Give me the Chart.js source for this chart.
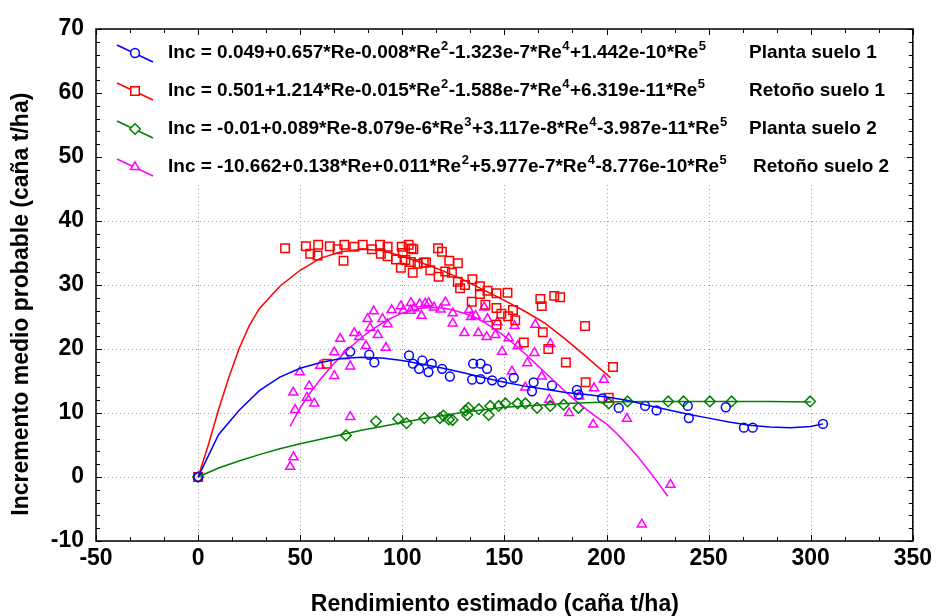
<!DOCTYPE html>
<html><head><meta charset="utf-8">
<script src="https://cdn.jsdelivr.net/npm/chart.js@4/dist/chart.umd.min.js"></script>
<style>html,body{margin:0;padding:0;background:#fff}canvas{display:block}</style>
</head><body>
<canvas id="c" width="936" height="616"></canvas>
<script>
// ---------- data ----------
const seriesNames = ["Planta suelo 1", "Retoño suelo 1", "Planta suelo 2", "Retoño suelo 2"];
const equations = [
  "Inc = 0.049+0.657*Re-0.008*Re^2-1.323e-7*Re^4+1.442e-10*Re^5",
  "Inc = 0.501+1.214*Re-0.015*Re^2-1.588e-7*Re^4+6.319e-11*Re^5",
  "Inc = -0.01+0.089*Re-8.079e-6*Re^3+3.117e-8*Re^4-3.987e-11*Re^5",
  "Inc = -10.662+0.138*Re+0.011*Re^2+5.977e-7*Re^4-8.776e-10*Re^5"
];
const xTitle = "Rendimiento estimado (caña t/ha)";
const yTitle = "Incremento medio probable (caña t/ha)";
const xTickValues = [-50, 0, 50, 100, 150, 200, 250, 300, 350];
const yTickValues = [-10, 0, 10, 20, 30, 40, 50, 60, 70];

// Planta suelo 1 (blue circles)
const planta1X = [0,74.5,83.8,86.3,103.3,105.2,109.8,108.2,112.8,114.4,119.5,123.3,134.7,138.3,141.5,134.2,138.3,144.0,148.9,154.6,164.3,163.5,173.3,185.5,186.3,197.9,206.0,218.9,224.5,239.8,240.3,258.4,267.3,271.6,306.0];
const planta1Y = [0,19.6,19.1,17.9,19.0,17.7,18.2,16.9,16.4,17.7,16.9,15.7,17.7,17.7,16.9,15.2,15.3,15.1,14.8,15.5,14.8,13.4,14.3,13.6,12.9,12.3,10.8,11.1,10.4,11.1,9.2,10.9,7.7,7.7,8.3];
// Retoño suelo 1 (red squares)
const retono1X = [0,42.6,52.8,54.9,58.8,58.5,63.0,64.5,68.3,71.6,71.2,76.5,80.6,85.1,89.1,89.5,92.8,92.8,96.9,99.7,100.2,99.3,101.5,103.1,104.5,105.4,104.2,105.1,107.5,110.5,111.6,113.7,117.5,119.4,117.8,121.0,123.0,124.3,127.2,127.2,128.3,130.7,134.3,134.0,138.0,138.0,140.7,141.7,146.1,146.1,146.1,148.5,151.5,151.8,154.2,155.3,159.5,167.6,168.3,168.8,171.5,174.4,177.3,180.1,189.5,189.8,201.1,203.2];
const retono1Y = [0,35.75,36.06,34.9,36.3,34.6,17.7,36.06,35.6,36.3,33.8,35.96,36.3,35.6,36.3,34.9,35.96,34.5,34.0,35.96,35.0,32.7,33.9,36.3,35.7,35.6,33.6,31.9,33.3,33.5,33.5,32.3,35.75,35.2,31.3,32.1,33.8,31.9,33.4,30.5,29.5,30.0,30.9,27.4,29.8,28.6,26.9,29.1,28.7,26.4,23.8,25.5,28.8,25.1,26.1,24.5,21.0,27.8,26.7,22.6,20.0,28.3,28.1,17.9,23.6,14.8,12.4,17.2];
// Planta suelo 2 (green diamonds)
const planta2X = [0,72.4,87.1,98.0,102.1,110.8,118.4,120.1,122.8,124.6,130.9,132.4,131.8,137.5,142.3,143.1,147.2,150.5,156.5,160.3,166.0,172.5,179.0,186.3,201.1,210.3,230.2,237.7,250.6,261.3,299.7];
const planta2Y = [0,6.5,8.7,9.1,8.4,9.2,9.2,9.6,9.0,8.9,10.4,10.8,9.7,10.6,9.7,11.1,11.1,11.5,11.5,11.5,10.8,11.1,11.3,10.8,11.5,11.8,11.8,11.8,11.8,11.8,11.8];
// Retoño suelo 2 (magenta triangles)
const retono2X = [45.1,46.7,47.5,46.6,49.8,53.3,54.4,56.9,59.8,66.7,66.7,69.6,71.6,74.5,74.5,76.5,78.9,82.2,84.2,83.0,88.0,86.0,90.3,92.0,92.8,94.8,99.3,100.5,104.2,104.0,105.9,108.5,109.4,111.2,112.9,115.5,118.7,121.1,124.7,124.7,130.4,132.7,133.7,135.9,137.2,140.1,141.3,141.7,145.6,146.6,148.9,152.1,153.7,155.0,156.6,160.2,161.2,164.7,165.1,168.3,172.0,172.5,181.7,186.6,193.5,193.9,198.7,210.0,217.3,231.3];
const retono2Y = [1.6,3.1,10.5,13.2,16.4,12.4,14.2,11.5,17.4,15.8,19.5,21.6,18.9,17.3,9.4,22.5,21.9,20.5,23.3,24.7,22.2,25.9,24.7,20.2,23.9,26.1,26.7,26.0,27.2,26.0,26.4,27.0,25.2,27.1,27.2,26.5,26.2,27.3,25.6,24.0,22.5,26.1,25.0,25.2,22.5,26.5,21.9,24.7,22.2,24.2,19.6,21.7,16.5,23.6,20.5,14.0,17.8,19.4,23.8,15.7,12.1,20.8,10.0,12.6,8.2,13.9,15.2,9.1,-7.4,-1.2];

// fitted curves
const curve1X = [0,5,10,20,30,40,50,60,70,80,90,100,110,120,130,140,150,160,170,180,190,200,210,220,230,240,250,260,270,280,290,300,306];
const curve1Y = [0,3.3,6.6,10.4,13.5,15.6,17.0,17.9,18.5,18.7,18.6,18.2,17.6,17.0,16.3,15.5,14.8,14.2,13.7,13.2,12.9,12.5,12.0,11.2,10.5,9.8,9.2,8.6,8.1,7.8,7.7,7.9,8.3];
const curve2X = [0,5,10,15,20,25,30,40,50,60,70,80,90,100,110,120,130,140,150,160,170,180,190,202];
const curve2Y = [0,5.0,10.5,15.5,20.0,23.6,26.3,29.8,32.3,34.2,35.2,35.6,35.4,34.5,33.4,32.2,30.8,29.2,27.6,25.9,24.0,21.5,18.8,15.5];
const curve3X = [0,10,20,30,40,50,60,70,80,90,100,110,120,130,140,150,160,170,180,190,200,220,240,260,280,300];
const curve3Y = [0,1.4,2.5,3.5,4.4,5.2,5.9,6.6,7.3,7.9,8.5,9.1,9.6,10.1,10.5,10.9,11.1,11.3,11.5,11.6,11.7,11.8,11.8,11.8,11.8,11.7];
const curve4X = [45,50,55,60,65,70,75,80,85,90,95,100,105,110,115,120,125,130,135,140,145,150,155,160,165,170,175,180,185,190,195,200,205,210,215,220,225,230];
const curve4Y = [7.9,10.8,13.2,15.3,17.2,18.9,20.4,21.8,23.0,24.0,24.9,25.6,26.1,26.4,26.5,26.4,26.1,25.6,25.0,24.2,23.2,22.0,20.7,19.3,17.8,16.3,14.8,13.3,11.9,10.6,9.4,8.3,6.8,5.1,3.3,1.3,-0.8,-3.0];

// ---------- build ----------
const colors = ["#0000ff", "#ff0000", "#008000", "#ff00ff"];
const styles = ["circle", "rect", "rectRot", "triangle"];
const radii = [4.4, 6.0, 5.3, 5.2];
const zip = (xs, ys) => xs.map((x, i) => ({x, y: ys[i]}));
const ptsX = [planta1X, retono1X, planta2X, retono2X];
const ptsY = [planta1Y, retono1Y, planta2Y, retono2Y];
const cX = [curve1X, curve2X, curve3X, curve4X];
const cY = [curve1Y, curve2Y, curve3Y, curve4Y];

const datasets = [];
for (let i = 0; i < 4; i++) {
  datasets.push({
    label: seriesNames[i] + " curve", data: zip(cX[i], cY[i]), showLine: true,
    borderColor: colors[i], borderWidth: 1.5, pointRadius: 0, fill: false, tension: 0
  });
}
for (let i = 0; i < 4; i++) {
  datasets.push({
    label: seriesNames[i], data: zip(ptsX[i], ptsY[i]), showLine: false,
    pointStyle: styles[i], pointRadius: radii[i], pointBorderWidth: 1.5,
    borderColor: colors[i], backgroundColor: "rgba(0,0,0,0)"
  });
}

const FONT = '"Liberation Sans", Arial, sans-serif';
Chart.defaults.font.family = FONT;
Chart.defaults.color = "#000";

const legendPlugin = {
  id: "eqLegend",
  beforeDatasetsDraw(chart) {
    const ctx = chart.ctx, a = chart.chartArea;
    const xs = chart.scales.x, ys = chart.scales.y;
    ctx.save();
    // dotted grid
    ctx.strokeStyle = "#a0a0a0";
    ctx.lineWidth = 1;
    ctx.setLineDash([1, 3]);
    ctx.beginPath();
    for (const v of xTickValues) {
      const px = Math.round(xs.getPixelForValue(v)) + 0.5;
      ctx.moveTo(px, a.top); ctx.lineTo(px, a.bottom);
    }
    for (const v of yTickValues) {
      const py = Math.round(ys.getPixelForValue(v)) + 0.5;
      ctx.moveTo(a.left, py); ctx.lineTo(a.right, py);
    }
    ctx.stroke();
    ctx.setLineDash([]);
    // legend box
    ctx.fillStyle = "#fff";
    ctx.fillRect(97.5, 30, 806, 154);
    for (let i = 0; i < 4; i++) {
      const y = 53 + 38 * i;
      ctx.strokeStyle = colors[i];
      ctx.lineWidth = 1.5;
      ctx.beginPath(); ctx.moveTo(117, y - 8); ctx.lineTo(153, y + 9); ctx.stroke();
      ctx.fillStyle = "#fff";
      Chart.helpers.drawPoint(ctx, {pointStyle: styles[i], radius: radii[i], borderWidth: 1.5, rotation: 0}, 135, y);
      ctx.fillStyle = "#000";
      ctx.textBaseline = "middle";
      ctx.textAlign = "left";
      let x = 168;
      const parts = equations[i].split(/(\^\d)/);
      for (const p of parts) {
        if (!p) continue;
        if (p[0] === "^") {
          ctx.font = "bold 13px " + FONT;
          ctx.fillText(p.slice(1), x + 0.5, y - 7);
          x += ctx.measureText(p.slice(1)).width + 1;
        } else {
          ctx.font = "bold 19px " + FONT;
          ctx.fillText(p, x, y);
          x += ctx.measureText(p).width;
        }
      }
      ctx.font = "bold 19px " + FONT;
      ctx.fillText(seriesNames[i], i === 3 ? 753 : 749, y);
    }
    ctx.restore();
  },
  afterDatasetsDraw(chart) {
    const ctx = chart.ctx, a = chart.chartArea;
    const xs = chart.scales.x, ys = chart.scales.y;
    ctx.save();
    ctx.strokeStyle = "#000";
    ctx.lineWidth = 1.5;
    ctx.strokeRect(a.left, a.top, a.right - a.left, a.bottom - a.top);
    ctx.lineWidth = 1;
    ctx.beginPath();
    for (let k = 0; k <= 24; k++) {
      const v = -50 + k * 50 / 3;
      const px = Math.round(xs.getPixelForValue(v)) + 0.5;
      const len = (k % 3 === 0) ? 6 : 4;
      ctx.moveTo(px, a.bottom); ctx.lineTo(px, a.bottom - len);
      ctx.moveTo(px, a.top); ctx.lineTo(px, a.top + len);
    }
    for (let k = 0; k <= 40; k++) {
      const v = -10 + k * 2;
      const py = Math.round(ys.getPixelForValue(v)) + 0.5;
      const len = (k % 5 === 0) ? 6 : 4;
      ctx.moveTo(a.left, py); ctx.lineTo(a.left + len, py);
      ctx.moveTo(a.right, py); ctx.lineTo(a.right - len, py);
    }
    ctx.stroke();
    ctx.restore();
  }
};

new Chart(document.getElementById("c"), {
  type: "scatter",
  data: {datasets},
  plugins: [legendPlugin],
  options: {
    responsive: false, animation: false,
    layout: {padding: {top: 29, right: 18, left: 0, bottom: 0}},
    plugins: {legend: {display: false}, tooltip: {enabled: false}},
    scales: {
      x: {
        type: "linear", min: -50, max: 350,
        afterBuildTicks: s => { s.ticks = xTickValues.map(v => ({value: v})); },
        afterFit: s => { s.height = 75; },
        grid: {display: false, drawTicks: false},
        border: {display: false},
        ticks: {font: {size: 23, weight: "bold"}, padding: 4, maxRotation: 0, color: "#000"},
        title: {display: true, text: xTitle + "   ", font: {size: 23, weight: "bold", lineHeight: 1}, padding: {top: 0, bottom: 0}, color: "#000"}
      },
      y: {
        type: "linear", min: -10, max: 70,
        afterBuildTicks: s => { s.ticks = yTickValues.map(v => ({value: v})); },
        afterFit: s => { s.width = 96; },
        grid: {display: false, drawTicks: false},
        border: {display: false},
        ticks: {font: {size: 23, weight: "bold"}, padding: 12, color: "#000"},
        title: {display: true, text: yTitle + "      ", font: {size: 23, weight: "bold", lineHeight: 1}, padding: {top: 10, bottom: 0}, color: "#000"}
      }
    }
  }
});
</script>
</body></html>
